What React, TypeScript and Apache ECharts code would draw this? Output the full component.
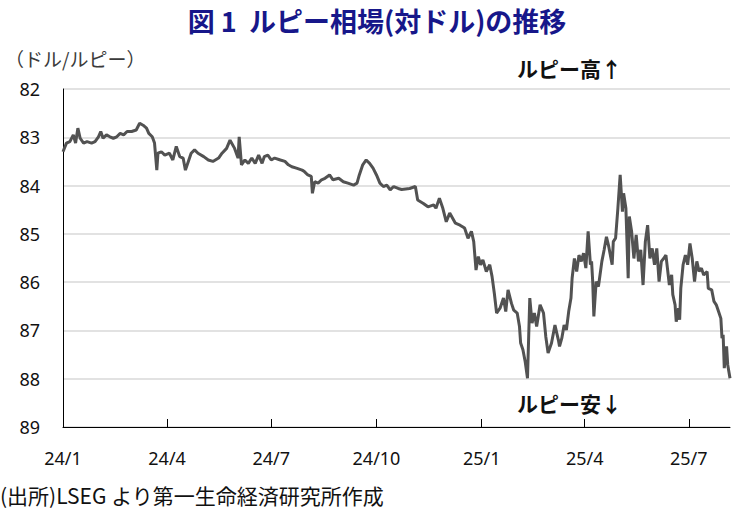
import React, { useEffect, useRef } from "react";
import * as echarts from "echarts";

const titleText = "図 1  ルピー相場(対ドル)の推移";
const unitText = "（ドル/ルピー）";
const upText = "ルピー高↑";
const downText = "ルピー安↓";
const sourceText = "(出所)LSEG より第一生命経済研究所作成";

const tickDates = ["2024-01-01", "2024-04-01", "2024-07-01", "2024-10-01", "2025-01-01", "2025-04-01", "2025-07-01"];
const tickLabels = ["24/1", "24/4", "24/7", "24/10", "25/1", "25/4", "25/7"];
const axisStart = "2024-01-01";
const axisEnd = "2025-08-06";

const dates = [
  "2024-01-01", "2024-01-04", "2024-01-07", "2024-01-10", "2024-01-12", "2024-01-14", "2024-01-16", "2024-01-19",
  "2024-01-22", "2024-01-26", "2024-01-29", "2024-02-01", "2024-02-03", "2024-02-05", "2024-02-08", "2024-02-11",
  "2024-02-14", "2024-02-17", "2024-02-20", "2024-02-23", "2024-02-26", "2024-03-01", "2024-03-05", "2024-03-08",
  "2024-03-11", "2024-03-14", "2024-03-16", "2024-03-19", "2024-03-21", "2024-03-23", "2024-03-24", "2024-03-27",
  "2024-03-30", "2024-04-03", "2024-04-06", "2024-04-09", "2024-04-12", "2024-04-15", "2024-04-17", "2024-04-20",
  "2024-04-22", "2024-04-25", "2024-04-28", "2024-05-03", "2024-05-07", "2024-05-11", "2024-05-16", "2024-05-19",
  "2024-05-23", "2024-05-26", "2024-05-30", "2024-06-02", "2024-06-03", "2024-06-05", "2024-06-08", "2024-06-11",
  "2024-06-14", "2024-06-17", "2024-06-20", "2024-06-23", "2024-06-25", "2024-06-28", "2024-07-01", "2024-07-04",
  "2024-07-09", "2024-07-13", "2024-07-16", "2024-07-19", "2024-07-23", "2024-07-28", "2024-07-30", "2024-08-02",
  "2024-08-05", "2024-08-06", "2024-08-08", "2024-08-11", "2024-08-14", "2024-08-17", "2024-08-21", "2024-08-24",
  "2024-08-29", "2024-09-02", "2024-09-06", "2024-09-11", "2024-09-14", "2024-09-16", "2024-09-19", "2024-09-22",
  "2024-09-25", "2024-09-28", "2024-10-01", "2024-10-04", "2024-10-07", "2024-10-10", "2024-10-13", "2024-10-16",
  "2024-10-20", "2024-10-23", "2024-10-30", "2024-11-04", "2024-11-06", "2024-11-11", "2024-11-15", "2024-11-20",
  "2024-11-22", "2024-11-25", "2024-11-28", "2024-12-01", "2024-12-04", "2024-12-09", "2024-12-13", "2024-12-17",
  "2024-12-20", "2024-12-23", "2024-12-25", "2024-12-27", "2024-12-29", "2024-12-31", "2025-01-02", "2025-01-05",
  "2025-01-08", "2025-01-10", "2025-01-12", "2025-01-14", "2025-01-17", "2025-01-20", "2025-01-22", "2025-01-24",
  "2025-01-27", "2025-01-29", "2025-02-01", "2025-02-03", "2025-02-04", "2025-02-06", "2025-02-08", "2025-02-10",
  "2025-02-12", "2025-02-14", "2025-02-16", "2025-02-18", "2025-02-21", "2025-02-24", "2025-02-26", "2025-02-28",
  "2025-03-03", "2025-03-06", "2025-03-09", "2025-03-10", "2025-03-12", "2025-03-14", "2025-03-16", "2025-03-18",
  "2025-03-20", "2025-03-21", "2025-03-23", "2025-03-25", "2025-03-27", "2025-03-29", "2025-03-31", "2025-04-02",
  "2025-04-04", "2025-04-06", "2025-04-07", "2025-04-08", "2025-04-09", "2025-04-11", "2025-04-13", "2025-04-14",
  "2025-04-16", "2025-04-18", "2025-04-20", "2025-04-22", "2025-04-25", "2025-04-26", "2025-04-28", "2025-04-30",
  "2025-05-02", "2025-05-04", "2025-05-05", "2025-05-07", "2025-05-09", "2025-05-10", "2025-05-12", "2025-05-14",
  "2025-05-16", "2025-05-18", "2025-05-20", "2025-05-22", "2025-05-24", "2025-05-26", "2025-05-28", "2025-05-30",
  "2025-06-01", "2025-06-03", "2025-06-05", "2025-06-07", "2025-06-09", "2025-06-11", "2025-06-14", "2025-06-16",
  "2025-06-17", "2025-06-19", "2025-06-20", "2025-06-22", "2025-06-23", "2025-06-24", "2025-06-26", "2025-06-28",
  "2025-06-30", "2025-07-02", "2025-07-04", "2025-07-06", "2025-07-08", "2025-07-10", "2025-07-12", "2025-07-14",
  "2025-07-17", "2025-07-18", "2025-07-21", "2025-07-23", "2025-07-25", "2025-07-27", "2025-07-29", "2025-07-30",
  "2025-07-31", "2025-08-01", "2025-08-03", "2025-08-04", "2025-08-06",
];

const rates = [
  83.30, 83.12, 83.09, 82.95, 83.12, 82.81, 83.02, 83.12,
  83.09, 83.12, 83.09, 82.99, 82.88, 83.02, 82.95, 82.99,
  83.02, 82.99, 82.92, 82.95, 82.88, 82.88, 82.85, 82.71,
  82.75, 82.81, 82.92, 82.99, 83.12, 83.68, 83.33, 83.30,
  83.37, 83.33, 83.47, 83.19, 83.40, 83.43, 83.68, 83.47,
  83.33, 83.26, 83.33, 83.40, 83.47, 83.50, 83.43, 83.33,
  83.23, 83.06, 83.23, 83.43, 82.99, 83.57, 83.47, 83.54,
  83.43, 83.54, 83.37, 83.54, 83.40, 83.37, 83.47, 83.43,
  83.47, 83.50, 83.57, 83.61, 83.64, 83.68, 83.71, 83.78,
  83.81, 84.16, 83.92, 83.95, 83.88, 83.85, 83.78, 83.88,
  83.85, 83.92, 83.95, 83.99, 83.95, 83.78, 83.57, 83.47,
  83.54, 83.64, 83.78, 83.95, 84.02, 83.99, 84.09, 84.02,
  84.06, 84.08, 84.06, 84.02, 84.30, 84.37, 84.44, 84.40,
  84.47, 84.26, 84.47, 84.75, 84.57, 84.78, 84.82, 84.88,
  85.09, 84.95, 85.16, 85.75, 85.47, 85.64, 85.54, 85.78,
  85.64, 85.88, 86.23, 86.64, 86.54, 86.33, 86.61, 86.16,
  86.44, 86.58, 86.64, 86.92, 87.26, 87.40, 87.65, 87.99,
  86.33, 86.85, 86.64, 86.92, 86.47, 86.64, 87.13, 87.47,
  87.26, 86.89, 87.20, 87.33, 87.16, 86.89, 86.99, 86.61,
  86.33, 85.92, 85.51, 85.78, 85.44, 85.57, 85.40, 85.71,
  84.95, 85.64, 85.57, 85.99, 86.71, 85.99, 86.09, 85.92,
  85.57, 85.33, 85.06, 85.26, 85.64, 85.16, 85.09, 84.47,
  83.78, 84.54, 84.16, 84.47, 85.92, 84.64, 84.95, 85.51,
  85.02, 85.57, 85.33, 86.06, 85.16, 84.82, 85.51, 85.30,
  85.64, 85.30, 85.99, 85.57, 85.51, 85.44, 86.06, 85.85,
  86.26, 86.47, 86.82, 86.54, 86.78, 86.13, 85.64, 85.44,
  85.64, 85.20, 85.51, 85.99, 85.57, 85.78, 85.71, 85.85,
  85.78, 86.13, 86.16, 86.40, 86.47, 86.61, 86.75, 87.16,
  87.09, 87.78, 87.33, 87.71, 87.99,
];

const yMin = 82;
const yMax = 89;
const yStep = 1;

const DAY = 86400000;
const ts = (d: string) => {
  const [y, m, dd] = d.split("-").map(Number);
  return Date.UTC(y, m - 1, dd);
};
const fmt = (t: number) => new Date(t).toISOString().slice(0, 10);

const JP = "'Noto Sans CJK JP', 'Noto Sans', sans-serif";
const NUM = "'Noto Sans', 'Noto Sans CJK JP', sans-serif";

export default function App() {
  const ref = useRef<HTMLDivElement>(null);
  useEffect(() => {
    if (!ref.current) return;
    const chart = echarts.init(ref.current, null, { renderer: "svg" });

    // daily category axis spanning the chart period
    const categories: string[] = [];
    for (let t = ts(axisStart); t <= ts(axisEnd); t += DAY) categories.push(fmt(t));
    const valueByDate: Record<string, number> = {};
    dates.forEach((d, i) => (valueByDate[d] = rates[i]));
    const seriesData = categories.map((c) => (c in valueByDate ? valueByDate[c] : null));
    const labelByDate: Record<string, string> = {};
    tickDates.forEach((d, i) => (labelByDate[d] = tickLabels[i]));
    const isTick = (_i: number, v: string) => v in labelByDate;

    chart.setOption({
      animation: false,
      backgroundColor: "#ffffff",
      title: {
        text: titleText,
        left: 372,
        textAlign: "center",
        top: 2,
        textStyle: { fontFamily: JP, fontSize: 27, fontWeight: "bold", color: "#17178a" },
      },
      grid: { left: 63, right: 6, top: 89, bottom: 88, containLabel: false },
      xAxis: {
        type: "category",
        data: categories,
        boundaryGap: false,
        axisLine: { show: true, lineStyle: { color: "#000000", width: 1 } },
        axisTick: { show: true, inside: true, length: 8, interval: isTick, lineStyle: { color: "#000000" } },
        axisLabel: {
          interval: isTick,
          formatter: (v: string) => labelByDate[v] ?? "",
          fontFamily: NUM,
          fontSize: 18,
          color: "#111111",
          margin: 22,
        },
        splitLine: { show: false },
      },
      yAxis: {
        type: "value",
        inverse: true,
        min: yMin,
        max: yMax,
        interval: yStep,
        axisLine: { show: true, lineStyle: { color: "#000000", width: 1 } },
        axisTick: { show: false },
        axisLabel: { fontFamily: NUM, fontSize: 18, color: "#111111", margin: 23 },
        splitLine: { show: true, lineStyle: { color: "#d9d9d9", width: 1.5 } },
      },
      series: [
        {
          type: "line",
          data: seriesData,
          connectNulls: true,
          showSymbol: false,
          symbol: "none",
          lineStyle: { color: "#525252", width: 3 },
          z: 3,
        },
      ],
      graphic: [
        {
          type: "text",
          left: 5,
          top: 49,
          style: { text: unitText, fontFamily: JP, fontSize: 19, fill: "#3a3a3a" },
        },
        {
          type: "text",
          left: 517,
          top: 57,
          style: { text: upText, fontFamily: JP, fontSize: 21, fontWeight: "bold", fill: "#111111" },
        },
        {
          type: "text",
          left: 517,
          top: 392,
          style: { text: downText, fontFamily: JP, fontSize: 21, fontWeight: "bold", fill: "#111111" },
        },
        {
          type: "text",
          left: 0,
          top: 484,
          style: { text: sourceText, fontFamily: JP, fontSize: 21, fill: "#111111" },
        },
      ],
    });
    return () => chart.dispose();
  }, []);
  return <div ref={ref} style={{ width: 736, height: 515, position: "absolute", left: 0, top: 0 }} />;
}
